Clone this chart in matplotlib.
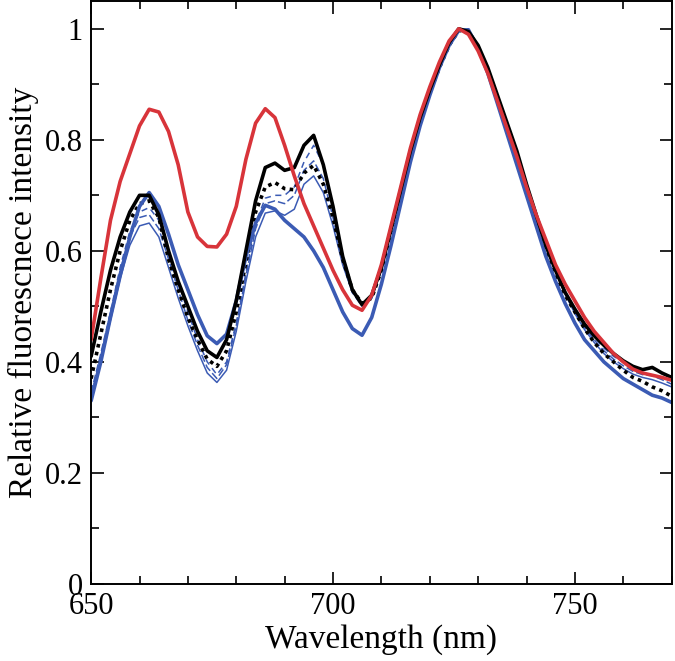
import matplotlib
matplotlib.use("Agg")
import matplotlib.pyplot as plt
from matplotlib.ticker import MultipleLocator

# wavelength grid (nm), 650..770 in 2 nm steps
wavelength = list(range(650, 771, 2))

red = [0.44, 0.55, 0.655, 0.725, 0.775, 0.825, 0.855, 0.85, 0.815, 0.755,
       0.67, 0.625, 0.608, 0.607, 0.63, 0.68, 0.765, 0.83, 0.856, 0.84,
       0.79, 0.735, 0.685, 0.645, 0.605, 0.565, 0.53, 0.502, 0.493,
       0.52, 0.575, 0.645, 0.715, 0.785, 0.845, 0.895, 0.94, 0.978, 1.0,
       0.99, 0.96, 0.92, 0.87, 0.82, 0.77, 0.715, 0.665, 0.62, 0.575,
       0.54, 0.51, 0.48, 0.455, 0.435, 0.415, 0.40, 0.387, 0.38, 0.376,
       0.372, 0.367]

black = [0.41, 0.49, 0.565, 0.625, 0.67, 0.70, 0.70, 0.665, 0.60, 0.545,
         0.50, 0.455, 0.42, 0.408, 0.44, 0.51, 0.60, 0.69, 0.75, 0.758,
         0.745, 0.75, 0.79, 0.808, 0.755, 0.68, 0.59, 0.53, 0.503,
         0.52, 0.57, 0.64, 0.71, 0.78, 0.84, 0.89, 0.935, 0.975, 1.0,
         0.995, 0.97, 0.93, 0.88, 0.83, 0.78, 0.72, 0.665, 0.61, 0.565,
         0.525, 0.495, 0.468, 0.447, 0.43, 0.415, 0.402, 0.392, 0.386, 0.39,
         0.38, 0.372]

black_dot = [0.37, 0.45, 0.53, 0.60, 0.655, 0.685, 0.69, 0.66, 0.585, 0.53,
             0.48, 0.44, 0.405, 0.392, 0.42, 0.49, 0.58, 0.67, 0.715, 0.723,
             0.712, 0.71, 0.74, 0.754, 0.72, 0.66, 0.585, 0.53, 0.505,
             0.515, 0.565, 0.635, 0.705, 0.775, 0.835, 0.885, 0.93, 0.97, 0.997,
             0.995, 0.965, 0.925, 0.875, 0.825, 0.77, 0.715, 0.66, 0.605, 0.56,
             0.52, 0.49, 0.46, 0.435, 0.415, 0.40, 0.385, 0.372, 0.365, 0.355,
             0.348, 0.338]

blue = [0.33, 0.40, 0.48, 0.555, 0.625, 0.68, 0.705, 0.68, 0.63, 0.575,
        0.53, 0.485, 0.447, 0.433, 0.45, 0.51, 0.59, 0.65, 0.682, 0.675,
        0.655, 0.64, 0.625, 0.60, 0.57, 0.53, 0.49, 0.46, 0.448,
        0.48, 0.54, 0.61, 0.685, 0.76, 0.825, 0.88, 0.93, 0.97, 0.997,
        0.998, 0.965, 0.92, 0.865, 0.81, 0.755, 0.70, 0.645, 0.59, 0.545,
        0.505, 0.47, 0.44, 0.42, 0.40, 0.385, 0.37, 0.36, 0.35, 0.34,
        0.335, 0.327]

blue_dash = [0.34, 0.41, 0.49, 0.57, 0.635, 0.67, 0.678, 0.655, 0.60, 0.545,
             0.49, 0.44, 0.40, 0.377, 0.40, 0.47, 0.56, 0.65, 0.695, 0.70,
             0.70, 0.715, 0.76, 0.79, 0.755, 0.675, 0.59, 0.53, 0.505,
             0.515, 0.565, 0.635, 0.705, 0.775, 0.835, 0.885, 0.93, 0.97, 0.997,
             1.0, 0.97, 0.93, 0.875, 0.825, 0.77, 0.715, 0.66, 0.61, 0.565,
             0.525, 0.49, 0.465, 0.445, 0.425, 0.41, 0.40, 0.39, 0.385, 0.39,
             0.38, 0.37]

blue_dash2 = [0.345, 0.415, 0.49, 0.565, 0.625, 0.66, 0.665, 0.64, 0.585, 0.53,
              0.475, 0.43, 0.39, 0.37, 0.395, 0.465, 0.555, 0.64, 0.685, 0.69,
              0.685, 0.70, 0.745, 0.762, 0.73, 0.66, 0.58, 0.525, 0.50,
              0.515, 0.565, 0.635, 0.705, 0.775, 0.835, 0.885, 0.93, 0.97, 0.997,
              0.997, 0.968, 0.928, 0.875, 0.825, 0.77, 0.715, 0.66, 0.61, 0.565,
              0.525, 0.49, 0.462, 0.44, 0.42, 0.405, 0.393, 0.383, 0.377, 0.375,
              0.368, 0.36]

blue_thin = [0.335, 0.40, 0.475, 0.55, 0.61, 0.645, 0.65, 0.625, 0.57, 0.515,
             0.465, 0.42, 0.38, 0.363, 0.385, 0.455, 0.545, 0.625, 0.668, 0.672,
             0.664, 0.675, 0.72, 0.735, 0.705, 0.645, 0.575, 0.525, 0.505,
             0.515, 0.565, 0.635, 0.705, 0.775, 0.835, 0.885, 0.93, 0.97, 0.997,
             0.997, 0.968, 0.928, 0.875, 0.822, 0.768, 0.712, 0.657, 0.607, 0.562,
             0.522, 0.487, 0.458, 0.435, 0.415, 0.40, 0.388, 0.378, 0.372, 0.368,
             0.362, 0.355]

yticks = [0, 0.2, 0.4, 0.6, 0.8, 1]
ytick_labels = ["0", "0.2", "0.4", "0.6", "0.8", "1"]
xticks = [650, 700, 750]

RED = "#d8343a"
BLUE = "#3b5bb4"

plt.rcParams["font.family"] = ["Liberation Serif", "DejaVu Serif"]

fig = plt.figure(figsize=(6.75, 6.61), dpi=100)
ax = fig.add_axes([0.135, 0.1165, 0.860, 0.882])

thin = dict(lw=1.1, solid_joinstyle="round", dash_joinstyle="round")
thick = dict(lw=2.6, solid_joinstyle="round", solid_capstyle="round")

ax.plot(wavelength, blue_thin, color=BLUE, **thin)
ax.plot(wavelength, blue_dash2, color=BLUE, ls=(0, (5, 2)), **thin)
ax.plot(wavelength, blue_dash, color=BLUE, ls=(0, (4, 3)), **thin)
ax.plot(wavelength, black_dot, color="black", lw=2.6, ls=(0, (1, 1.2)))
ax.plot(wavelength, blue, color=BLUE, **thick)
ax.plot(wavelength, black, color="black", **thick)
ax.plot(wavelength, red, color=RED, **thick)

ax.set_xlim(650, 770)
ax.set_ylim(0, 1.05)
ax.set_xticks(xticks)
ax.set_yticks(yticks)
ax.set_yticklabels(ytick_labels)
ax.xaxis.set_minor_locator(MultipleLocator(10))
ax.yaxis.set_minor_locator(MultipleLocator(0.1))
ax.tick_params(which="both", direction="in", top=True, right=True,
               labelsize=22, width=1.2)
ax.tick_params(which="major", length=9, pad=6)
ax.tick_params(which="minor", length=5.5)
for s in ax.spines.values():
    s.set_linewidth(1.4)

ax.set_xlabel("Wavelength (nm)", fontsize=24, labelpad=2)
ax.set_ylabel("Relative fluorescnece intensity", fontsize=24, labelpad=4)

fig.savefig("out.png", dpi=100)
